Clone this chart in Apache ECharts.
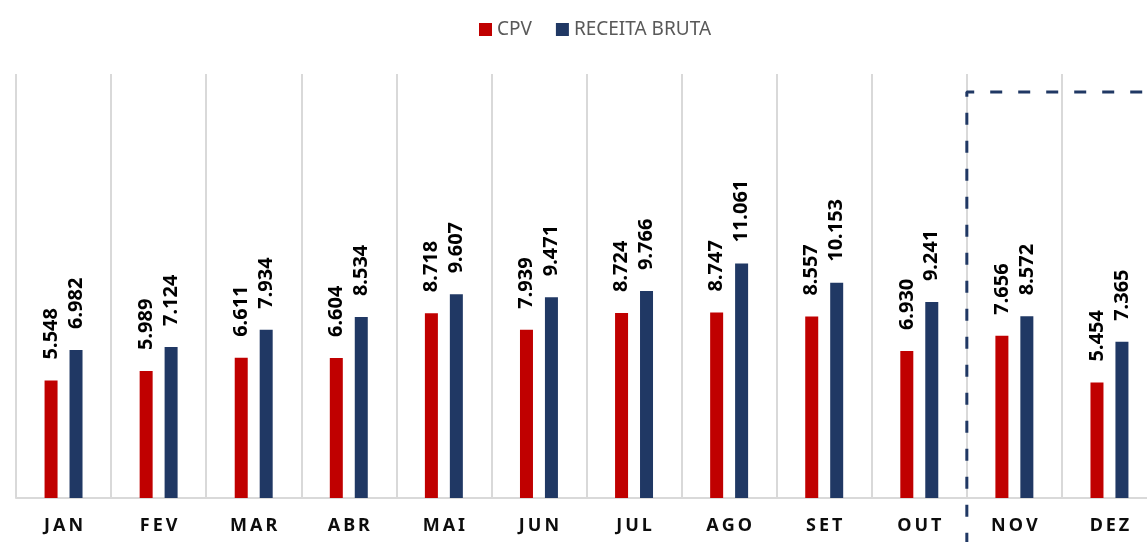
<!DOCTYPE html>
<html>
<head>
<meta charset="utf-8">
<script src="https://cdn.jsdelivr.net/npm/echarts@6/dist/echarts.min.js"></script>
<style>
  html, body { margin: 0; padding: 0; background: #fff; }
  #chart { width: 1147px; height: 542px; }
</style>
</head>
<body>
<div id="chart"></div>
<script>
const months = ["JAN", "FEV", "MAR", "ABR", "MAI", "JUN", "JUL", "AGO", "SET", "OUT", "NOV", "DEZ"];
const cpv = [5.548, 5.989, 6.611, 6.604, 8.718, 7.939, 8.724, 8.747, 8.557, 6.930, 7.656, 5.454];
const receita = [6.982, 7.124, 7.934, 8.534, 9.607, 9.471, 9.766, 11.061, 10.153, 9.241, 8.572, 7.365];
// dashed box around the forecast months (x in category units, y in axis units)
const forecastBox = [[10, -2.2], [10, 19.15], [12, 19.15]];

const chart = echarts.init(document.getElementById("chart"));

const barLabel = {
  show: true,
  position: "top",
  rotate: 90,
  align: "left",
  verticalAlign: "middle",
  distance: 21,
  color: "#000",
  fontFamily: "Noto Sans",
  fontWeight: "bold",
  fontSize: 20,
  formatter: p => p.value.toFixed(3)
};

chart.setOption({
  animation: false,
  legend: {
    top: 15,
    left: 474,
    data: ["CPV", "RECEITA BRUTA"],
    icon: "rect",
    itemWidth: 13,
    itemHeight: 13,
    itemGap: 24,
    textStyle: { color: "#595959", fontSize: 19, fontFamily: "Noto Sans" }
  },
  grid: { left: 16, width: 1141, top: 74, bottom: 44, outerBoundsMode: "none" },
  xAxis: [
    {
      type: "category",
      data: months,
      axisTick: { show: false },
      axisLine: { lineStyle: { color: "#d9d9d9", width: 2 } },
      splitLine: { show: true, interval: 0, lineStyle: { color: "#d9d9d9", width: 2 } },
      axisLabel: {
        margin: 19,
        color: "#0d0d0d",
        fontFamily: "Noto Sans",
        fontWeight: "bold",
        fontSize: 18,
        formatter: v => v.split("").join("\u2009")
      }
    },
    { type: "value", min: 0, max: 12, show: false }
  ],
  yAxis: {
    type: "value",
    min: 0,
    max: 20,
    show: false,
    splitLine: { show: false }
  },
  series: [
    {
      name: "CPV",
      type: "bar",
      data: cpv,
      barWidth: 13,
      barGap: "92%",
      itemStyle: { color: "#C00000" },
      label: barLabel
    },
    {
      name: "RECEITA BRUTA",
      type: "bar",
      data: receita,
      barWidth: 13,
      itemStyle: { color: "#203864" },
      label: barLabel
    },
    {
      name: "box",
      type: "line",
      xAxisIndex: 1,
      data: forecastBox,
      clip: false,
      symbol: "none",
      silent: true,
      lineStyle: { color: "#203864", width: 3, type: [12, 16] }
    }
  ]
});
</script>
</body>
</html>
